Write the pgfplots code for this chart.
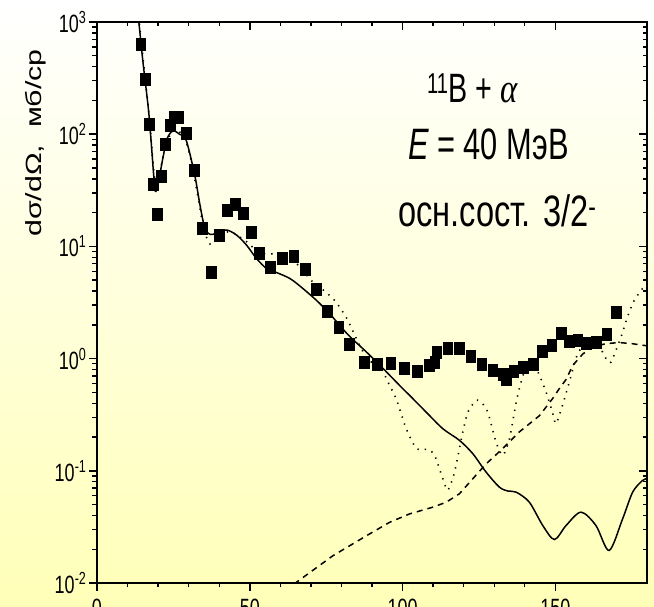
\documentclass[border=0pt]{standalone}
\usepackage{pgfplots}
\pgfplotsset{compat=1.18}
\usepackage{fontspec}
\setmainfont{Liberation Sans}
\newfontfamily\tickfont[FakeStretch=0.72]{Liberation Sans}
\newfontfamily\annfont[FakeStretch=0.70]{Liberation Sans}
\newfontfamily\annfontb[FakeStretch=0.74]{Liberation Sans}
\newfontfamily\greekfont[FakeStretch=0.80]{Liberation Serif}
\newfontfamily\labfont[FakeStretch=1.38]{Liberation Sans}
\definecolor{bgy}{RGB}{255,255,184}
\begin{document}
\begin{tikzpicture}
\shade[top color=white, bottom color=bgy] (-97pt,-23pt) rectangle (557pt,583pt);
\begin{axis}[at={(0pt,0pt)}, anchor=south west, scale only axis,
  width=550pt, height=561pt,
  xmin=0, xmax=180, ymode=log, ymin=1e-2, ymax=1e3,
  xtick={0,50,100,150}, xticklabels={0,50,100,150},
  minor x tick num=4,
  ytick={1e-2,1e-1,1,1e1,1e2,1e3},
  yticklabels={10\textsuperscript{-2},10\textsuperscript{-1},10\textsuperscript{0},10\textsuperscript{1},10\textsuperscript{2},10\textsuperscript{3}},
  tick align=outside, xtick pos=left, ytick pos=left,
  axis line style={line width=2.2pt},
  major tick length=8pt, minor tick length=4.5pt,
  major tick style={line width=1.6pt, black},
  minor tick style={line width=1.4pt, black},
  ticklabel style={font=\tickfont\fontsize{25}{25}\selectfont},
  xticklabel style={yshift=-5pt},
  yticklabel style={xshift=1pt},
  axis background/.style={fill=none},
]
\addplot[black, line width=1.5pt, smooth, tension=0.5] table {
13.3 1300
13.7 1000
15 450
17 150
18.5 45
19.1 31
20 36
21.5 60
23 92
24.9 107
27 100
29.2 88
32 43
33.7 23.4
35.3 14.5
37 12.8
39.1 13.1
42.4 14
45.7 12.6
48.9 10.3
52.2 7.8
55.5 6.35
58.7 5.86
63.1 5.18
67 4.3
71.8 3.31
76.1 2.52
82 1.65
88.1 1.15
93 0.85
99 0.578
103 0.45
107.7 0.334
113.2 0.237
118.6 0.187
123 0.142
127.3 0.0977
131.7 0.0715
134.5 0.066
137.2 0.0645
141.5 0.0525
145.9 0.0325
149.7 0.0244
153.5 0.0325
158.4 0.0428
163.3 0.0325
167.6 0.0195
172 0.0372
175.3 0.0645
178.5 0.0819
180 0.085
};
\addplot[black, line width=1.5pt, dash pattern=on 6pt off 5pt] table {
64.5 0.0098
77.2 0.0175
88.1 0.0263
95.8 0.0348
102.3 0.0413
109.9 0.0474
114.3 0.0525
118.6 0.0624
123 0.085
127.3 0.115
132.8 0.158
138.2 0.222
144.8 0.31
149.1 0.44
151.3 0.54
153.5 0.65
155.7 0.87
159 1.1
162.2 1.27
166.6 1.36
170.9 1.39
175 1.36
180 1.30
};
\addplot[black, line width=1.6pt, dash pattern=on 1.3pt off 6pt, smooth, tension=0.4] table {
13.4 1300
13.8 1000
15 500
17 150
18.5 50
19.3 33
20 38
22 70
24 100
25.5 110
27 105
29 88
31 55
33 28
35 14
37 10.5
39 11.5
41 13
43 13.5
45 13
47 12
49 11
52 9.3
55 8.6
58 8.6
61 8.5
64 7.6
67 6.3
70 5.0
74 4.1
77.8 3.3
81.6 2.32
85.4 1.41
88.7 0.97
92.5 0.87
95.2 0.62
97.9 0.44
99.6 0.32
101.2 0.237
104.5 0.158
108.3 0.155
110.5 0.137
113.2 0.085
114.8 0.067
117 0.097
119.7 0.22
121.4 0.334
124.1 0.425
126 0.40
127.9 0.334
130.6 0.18
132.8 0.137
135 0.193
137.2 0.41
138.8 0.62
140.5 0.85
142.6 0.93
144.8 0.71
147 0.50
149.1 0.33
150.2 0.263
152.3 0.38
154.6 0.62
156.7 1.0
158.5 1.25
160.5 1.38
163 1.35
165 1.2
166.6 1.0
168.2 0.93
171.5 1.56
173.6 2.35
175.8 3.3
178.5 4.2
180 4.6
};
\addplot[only marks, mark=square*, mark size=6pt, mark options={xscale=0.82, fill=black, draw=black}] table {
14.3 640
15.7 310
17.0 124
18.4 35.8
19.7 19.4
21.0 42
22.4 81
23.9 120
25.2 141
26.5 141
29.2 102
31.8 48
34.5 14.5
37.3 5.87
39.9 12.5
42.5 21.1
45.2 23.7
47.8 19.7
50.4 13.5
53.0 8.66
56.8 6.59
60.6 7.81
64.4 8.2
68.1 6.23
71.8 4.13
75.4 2.64
79.1 1.89
82.6 1.34
87.4 0.934
91.7 0.89
96.1 0.915
100.5 0.814
104.7 0.77
108.8 0.87
110.5 0.93
111.2 1.15
114.8 1.25
118.6 1.25
122.3 1.06
125.9 0.90
129.5 0.787
133.0 0.724
133.9 0.65
136.4 0.776
139.5 0.83
142.8 0.89
145.8 1.16
148.8 1.33
151.8 1.67
154.6 1.44
157.3 1.46
160.0 1.38
163.5 1.39
166.8 1.65
170.0 2.57
};
\end{axis}
\begin{axis}[at={(0pt,0pt)}, anchor=south west, scale only axis,
  width=550pt, height=561pt,
  xmin=0, xmax=180, ymode=log, ymin=1e-2, ymax=1e3,
  xtick={0,50,100,150}, minor x tick num=4,
  ytick={1e-2,1e-1,1,1e1,1e2,1e3},
  xticklabels={}, yticklabels={},
  tick align=inside, xtick pos=right, ytick pos=right,
  axis line style={line width=2.2pt},
  major tick length=8pt, minor tick length=4.5pt,
  major tick style={line width=1.6pt, black},
  minor tick style={line width=1.4pt, black},
]
\end{axis}
\node[rotate=90, anchor=base, inner sep=0pt] at (-55pt,440pt)
  {\labfont\fontsize{22}{22}\selectfont dσ/dΩ,\ \ мб/ср};
\node[anchor=base west, inner sep=0pt] at (330pt,480pt)
  {\annfont\fontsize{41}{41}\selectfont\textsuperscript{11}B + {\greekfont\itshape α}};
\node[anchor=base west, inner sep=0pt] at (311pt,423pt)
  {\annfont\fontsize{44}{44}\selectfont{\itshape E} = 40 МэВ};
\node[anchor=base west, inner sep=0pt] at (301pt,356pt)
  {\annfontb\fontsize{44}{44}\selectfont осн.сост. 3/2\textsuperscript{-}};
\pgfresetboundingbox
\path[use as bounding box] (-97pt,-23pt) rectangle (557pt,583pt);
\end{tikzpicture}
\end{document}
